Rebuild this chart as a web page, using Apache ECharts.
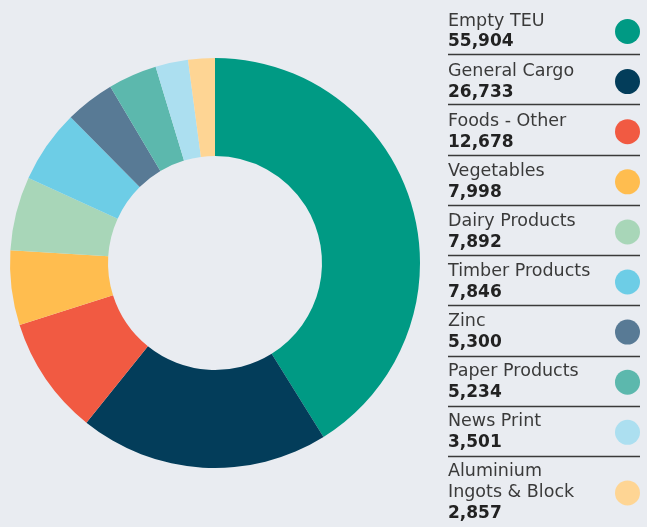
<!DOCTYPE html>
<html>
<head>
<meta charset="utf-8">
<script src="https://cdn.jsdelivr.net/npm/echarts@6/dist/echarts.min.js"></script>
<style>
html,body{margin:0;padding:0;background:#e9ecf1;}
#container{width:647px;height:527px;}
</style>
</head>
<body>
<div id="container"></div>
<script>
var categories=['Empty TEU','General Cargo','Foods - Other','Vegetables','Dairy Products','Timber Products','Zinc','Paper Products','News Print','Aluminium Ingots & Block'];
var values=[55904,26733,12678,7998,7892,7846,5300,5234,3501,2857];
var colors=['#009a84','#033d5a','#f15a42','#ffbd4f','#a8d6b8','#6dcde6','#587a95','#5cb8ad','#acdff0','#fed594'];

var dom=document.querySelector("#container");
var myChart=echarts.init(dom);

var pieData=categories.map(function(name,i){
    return {name:name,value:values[i],itemStyle:{color:colors[i]}};
});

// separators under each legend entry
var lines=[];
for(var i=0;i<categories.length-1;i++){
    var y=Math.round(54+i*50.25)+0.5;
    lines.push({
        type:'line',
        shape:{x1:448,y1:y,x2:640,y2:y},
        style:{stroke:'#3a3a3a',lineWidth:1.5},
        silent:true
    });
}

var option={
    backgroundColor:'#e9ecf1',
    animation:false,
    legend:{
        orient:'vertical',
        left:448,
        top:12,
        height:600,
        padding:0,
        align:'right',
        icon:'circle',
        itemWidth:25,
        itemHeight:25,
        itemGap:11.6,
        selectedMode:false,
        data:categories,
        formatter:function(name){
            var v=values[categories.indexOf(name)];
            var label=name.replace('Aluminium ','Aluminium\n');
            return label.split('\n').map(function(s){return '{n|'+s+'}';}).join('\n')
                +'\n{v|'+v.toLocaleString('en-US')+'}';
        },
        textStyle:{
            rich:{
                n:{fontFamily:'DejaVu Sans',fontSize:17.5,color:'#3a3a3a',lineHeight:21,width:162,align:'left'},
                v:{fontFamily:'DejaVu Sans',fontSize:17,fontWeight:'bold',color:'#222',lineHeight:21,width:162,align:'left'}
            }
        }
    },
    graphic:lines,
    series:[{
        type:'pie',
        center:[215,263],
        radius:[107,205],
        startAngle:90,
        clockwise:true,
        silent:true,
        label:{show:false},
        labelLine:{show:false},
        data:pieData
    }]
};
myChart.setOption(option);
</script>
</body>
</html>
